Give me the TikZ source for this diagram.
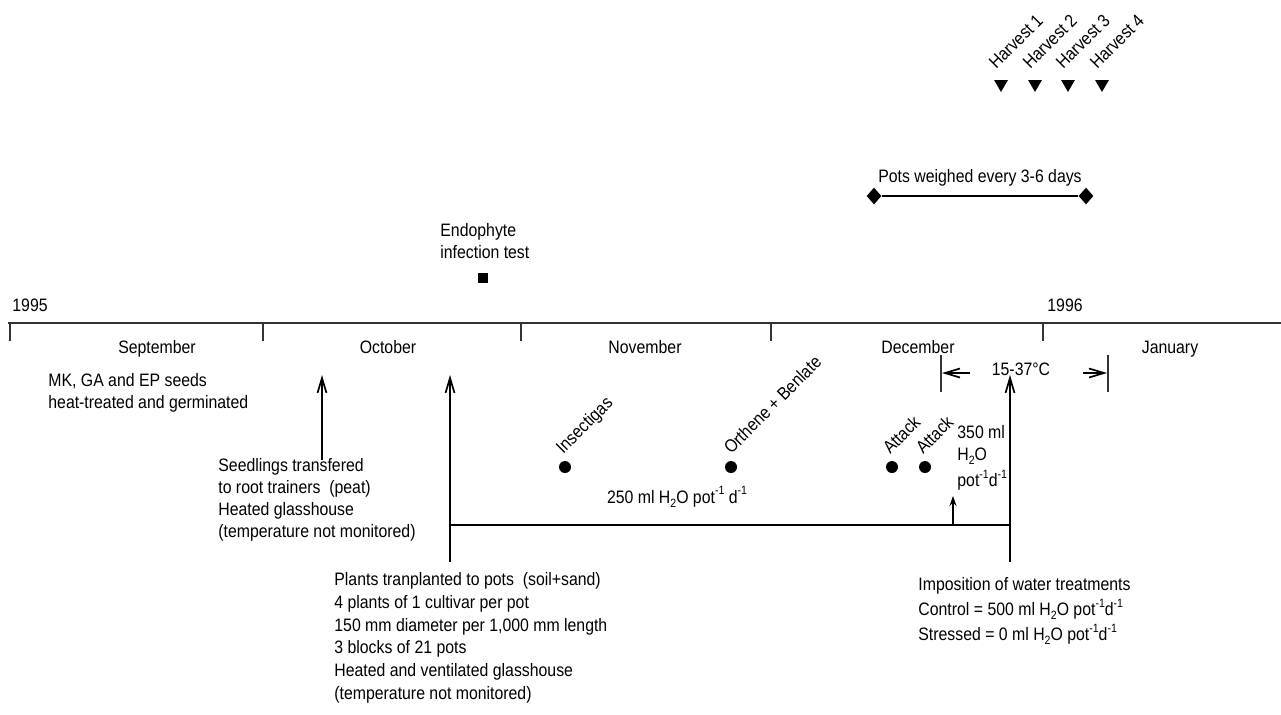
\documentclass[tikz,border=0pt]{standalone}
\usepackage{fontspec}
\setmainfont{Liberation Sans}[FakeStretch=0.88]
\usetikzlibrary{arrows.meta,shapes.geometric}
\newcommand\hsub[1]{\raisebox{-0.45ex}{\fontsize{6}{6}\selectfont #1}}
\newcommand\hsup[1]{\raisebox{0.85ex}{\fontsize{6}{6}\selectfont #1}}
\tikzset{
  lbl/.style={font=\fontsize{9}{11}\selectfont, inner sep=0pt, align=left},
  rot/.style={lbl, rotate=45, anchor=base west},
  axisline/.style={line width=1pt, draw=black!80},
  tickline/.style={line width=0.9pt, draw=black!80},
  bigarrow/.style={line width=0.85pt, -{Straight Barb[length=7.5pt,width=4.5pt,line width=0.85pt]}},
  smallarrow/.style={line width=0.85pt, -{Stealth[length=5pt,width=3.5pt]}},
  dotmark/.style={circle, fill=black, inner sep=0pt, minimum size=6pt},
  sqmark/.style={rectangle, fill=black, inner sep=0pt, minimum size=4.8pt},
  trimark/.style={isosceles triangle, isosceles triangle apex angle=60, shape border rotate=-90, fill=black, inner sep=0pt, minimum height=6pt, minimum width=6.5pt},
  diamark/.style={diamond, fill=black, inner sep=0pt, minimum width=7.5pt, minimum height=8.5pt},
}
\begin{document}
\begin{tikzpicture}[x=0.5pt,y=-0.5pt]
\useasboundingbox (0,0) rectangle (1281,714);

% timeline
\coordinate (ax0) at (8,323);
\coordinate (ax1) at (1281,323);
\draw[axisline] (ax0) -- (ax1);
\foreach \x/\n in {10/t0,263/t1,521/t2,771/t3,1043/t4}{
  \coordinate (\n a) at (\x,323);
  \coordinate (\n b) at (\x,341);
  \draw[tickline] (\n a) -- (\n b);
}
\node[lbl, anchor=base west] (y95) at (12,311) {1995};
\node[lbl, anchor=base west] (y96) at (1047,311) {1996};

\node[lbl, anchor=base] (sep) at (157,353) {September};
\node[lbl, anchor=base] (oct) at (388,353) {October};
\node[lbl, anchor=base] (nov) at (645,353) {November};
\node[lbl, anchor=base] (dec) at (918,353) {December};
\node[lbl, anchor=base] (jan) at (1170,353) {January};

% temperature bracket
\coordinate (bl0) at (941,355);
\coordinate (bl1) at (941,392);
\coordinate (br0) at (1108,355);
\coordinate (br1) at (1108,392);
\draw[tickline] (bl0) -- (bl1);
\draw[tickline] (br0) -- (br1);
\coordinate (la0) at (970,373);
\coordinate (la1) at (942,373);
\coordinate (ra0) at (1083,373);
\coordinate (ra1) at (1107,373);
\draw[bigarrow] (la0) -- (la1);
\draw[bigarrow] (ra0) -- (ra1);
\node[lbl, anchor=base] (temp) at (1021,375) {15-37\textdegree C};

% September text
\node[lbl, anchor=north west] (seeds) at (48,373) {MK, GA and EP seeds\\heat-treated and germinated};

% seedlings
\coordinate (s0) at (322,460);
\coordinate (s1) at (322,375);
\draw[bigarrow] (s0) -- (s1);
\node[lbl, anchor=north west] (seedl) at (218,458) {Seedlings transfered\\to root trainers\ \ (peat)\\Heated glasshouse\\(temperature not monitored)};

% transplanting arrow
\coordinate (p0) at (450,562);
\coordinate (p1) at (450,375);
\draw[bigarrow] (p0) -- (p1);
\node[lbl, anchor=north west, font=\fontsize{9}{11.4}\selectfont] (plants) at (334,572) {Plants tranplanted to pots\ \ (soil+sand)\\4 plants of 1 cultivar per pot\\150 mm diameter per 1,000 mm length\\3 blocks of 21 pots\\Heated and ventilated glasshouse\\(temperature not monitored)};

% water treatment arrow
\coordinate (w0) at (1010,562);
\coordinate (w1) at (1010,375);
\draw[bigarrow] (w0) -- (w1);
\node[lbl, anchor=north west, font=\fontsize{9}{12.5}\selectfont] (water) at (918,577) {Imposition of water treatments\\Control = 500 ml H\hsub{2}O pot\hsup{-1}d\hsup{-1}\\Stressed = 0 ml H\hsub{2}O pot\hsup{-1}d\hsup{-1}};

% watering line
\coordinate (h0) at (450,525);
\coordinate (h1) at (1010,525);
\draw[line width=0.85pt] (h0) -- (h1);
\coordinate (sa0) at (953,525);
\coordinate (sa1) at (953,496);
\draw[smallarrow] (sa0) -- (sa1);
\node[lbl, anchor=base] (w250) at (677,503) {250 ml H\hsub{2}O pot\hsup{-1} d\hsup{-1}};
\node[lbl, anchor=north west, font=\fontsize{9}{11}\selectfont] (w350) at (957,425) {350 ml\\H\hsub{2}O\\[2pt]pot\hsup{-1}d\hsup{-1}};

% dots with rotated labels
\node[dotmark] (d1) at (565,467) {};
\node[dotmark] (d2) at (731,467) {};
\node[dotmark] (d3) at (892,467) {};
\node[dotmark] (d4) at (925,467) {};
\node[rot] (l1) at (563,455) {Insectigas};
\node[rot] (l2) at (731,455) {Orthene + Benlate};
\node[rot] (l3) at (890,455) {Attack};
\node[rot] (l4) at (923,455) {Attack};

% endophyte test
\node[lbl, anchor=north west] (endo) at (440,223) {Endophyte\\infection test};
\node[sqmark] (sq) at (483,278) {};

% pots weighed
\node[diamark] (dm1) at (874,196) {};
\node[diamark] (dm2) at (1086,196) {};
\draw[line width=0.6pt] (dm1) -- (dm2);
\node[lbl, anchor=base] (pots) at (980,182) {Pots weighed every 3-6 days};

% harvests
\foreach \x/\k in {1001/1,1035/2,1068/3,1102/4}{
  \node[trimark] (hv\k) at (\x,84) {};
  \node[rot] (hl\k) at (\x-5,70) {Harvest \k};
}
\end{tikzpicture}
\end{document}
